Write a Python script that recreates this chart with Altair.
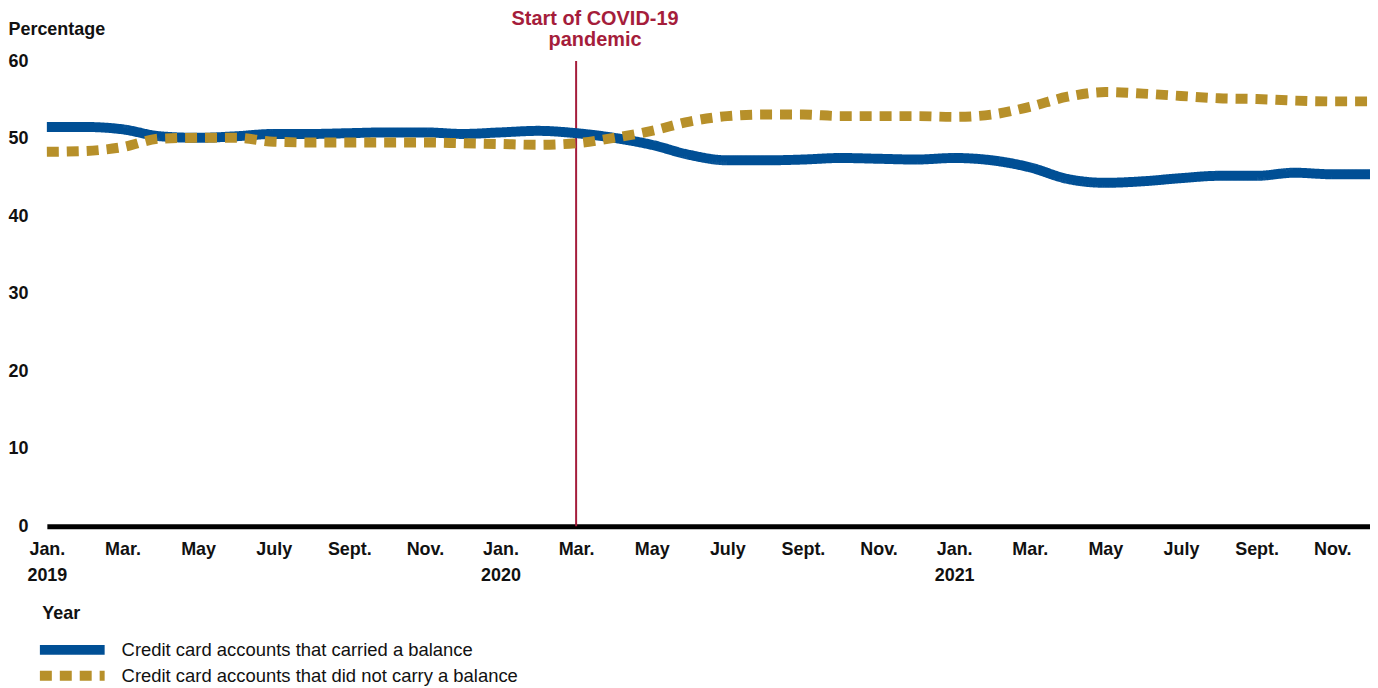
import altair as alt
import pandas as pd

# ---- data ----
month_index = list(range(36))  # Jan 2019 .. Dec 2021
carried = [51.5, 51.5, 51.2, 50.3, 50.1, 50.3, 50.6, 50.6, 50.7, 50.8, 50.8, 50.6,
           50.8, 51.0, 50.7, 50.1, 49.2, 47.9, 47.2, 47.2, 47.3, 47.5, 47.4, 47.3,
           47.5, 47.2, 46.3, 44.8, 44.3, 44.5, 44.9, 45.2, 45.2, 45.6, 45.4, 45.4]
not_carried = [48.3, 48.4, 48.9, 50.0, 50.1, 50.1, 49.6, 49.5, 49.5, 49.5, 49.5, 49.4,
               49.3, 49.2, 49.4, 50.1, 51.0, 52.2, 52.9, 53.1, 53.1, 52.9, 52.9, 52.9,
               52.8, 53.1, 54.1, 55.4, 56.0, 55.8, 55.5, 55.2, 55.1, 54.9, 54.8, 54.8]
series_names = ["Credit card accounts that carried a balance",
                "Credit card accounts that did not carry a balance"]

tick_values = [0, 2, 4, 6, 8, 10, 12, 14, 16, 18, 20, 22, 24, 26, 28, 30, 32, 34]
tick_months = ["Jan.", "Mar.", "May", "July", "Sept.", "Nov."] * 3
tick_years = {0: "2019", 12: "2020", 24: "2021"}
y_ticks = [0, 10, 20, 30, 40, 50, 60]
covid_month = [14]  # March 2020
covid_label = ["Start of COVID-19", "pandemic"]

BLUE = "#004f95"
GOLD = "#b7902a"
RED = "#a51d3b"
FONT = "Liberation Sans"

df = pd.DataFrame({
    "month": month_index + month_index,
    "value": carried + not_carried,
    "series": [series_names[0]] * 36 + [series_names[1]] * 36,
})

# label expression built from the tick lists
expr = "''"
for v, m in reversed(list(zip(tick_values, tick_months))):
    if v in tick_years:
        lbl = f"['{m}', '{tick_years[v]}']"
    else:
        lbl = f"'{m}'"
    expr = f"datum.value == {v} ? {lbl} : ({expr})"

legend = alt.Legend(
    title=None, orient="none", legendX=-12, legendY=579,
    symbolType="stroke", symbolSize=4225, symbolStrokeWidth=10,
    clipHeight=24, rowPadding=2, labelFontSize=18.5, labelFont=FONT,
    labelFontWeight="normal", labelColor="#111111", labelOffset=12,
    labelLimit=800,
)

color_scale = alt.Scale(domain=series_names, range=[BLUE, GOLD])
dash_scale = alt.Scale(domain=series_names, range=[[1, 0], [12, 8]])

lines = alt.Chart(df).mark_line(strokeWidth=10, interpolate="monotone").encode(
    x=alt.X("month:Q",
            scale=alt.Scale(domain=[0, 35], nice=False, zero=False),
            axis=alt.Axis(values=tick_values, labelExpr=expr, title="Year",
                          labelFontSize=18, labelFontWeight="bold", labelFont=FONT,
                          labelColor="#111111", labelLineHeight=26, labelPadding=14,
                          labelFlush=False, labelOverlap=False, ticks=False,
                          domainColor="#000000", domainWidth=5, grid=False,
                          titleFont=FONT, titleFontSize=18, titleFontWeight="bold",
                          titleColor="#111111", titleX=-5, titleY=87,
                          titleAlign="left", titleBaseline="middle")),
    y=alt.Y("value:Q",
            scale=alt.Scale(domain=[0, 60], nice=False),
            axis=alt.Axis(values=y_ticks, title="Percentage", grid=False,
                          domain=False, ticks=False, labelPadding=19,
                          labelFontSize=18, labelFontWeight="bold", labelFont=FONT,
                          labelColor="#111111", labelFlush=False,
                          titleFont=FONT, titleFontSize=18, titleFontWeight="bold",
                          titleColor="#111111", titleAngle=0, titleX=-39, titleY=-32,
                          titleAlign="left", titleBaseline="middle")),
    color=alt.Color("series:N", scale=color_scale, legend=legend),
    strokeDash=alt.StrokeDash("series:N", scale=dash_scale, legend=legend),
)

covid_df = pd.DataFrame({"month": covid_month, "value": [60]})
rule = alt.Chart(covid_df).mark_rule(color=RED, strokeWidth=2).encode(
    x=alt.X("month:Q")
)
note = alt.Chart(covid_df).mark_text(
    text=covid_label, color=RED, font=FONT, fontSize=20, fontWeight="bold",
    baseline="bottom", align="center", dx=19, dy=-32, lineHeight=21
).encode(x="month:Q", y="value:Q")

chart = alt.layer(rule, lines, note).properties(
    width=1328, height=467,
    autosize=alt.AutoSizeParams(type="none"),
    padding={"left": 39, "top": 52, "right": 0, "bottom": 160},
).configure(font=FONT).configure_view(stroke=None)

chart.save("out.html", embed_options={"renderer": "svg", "actions": False})
